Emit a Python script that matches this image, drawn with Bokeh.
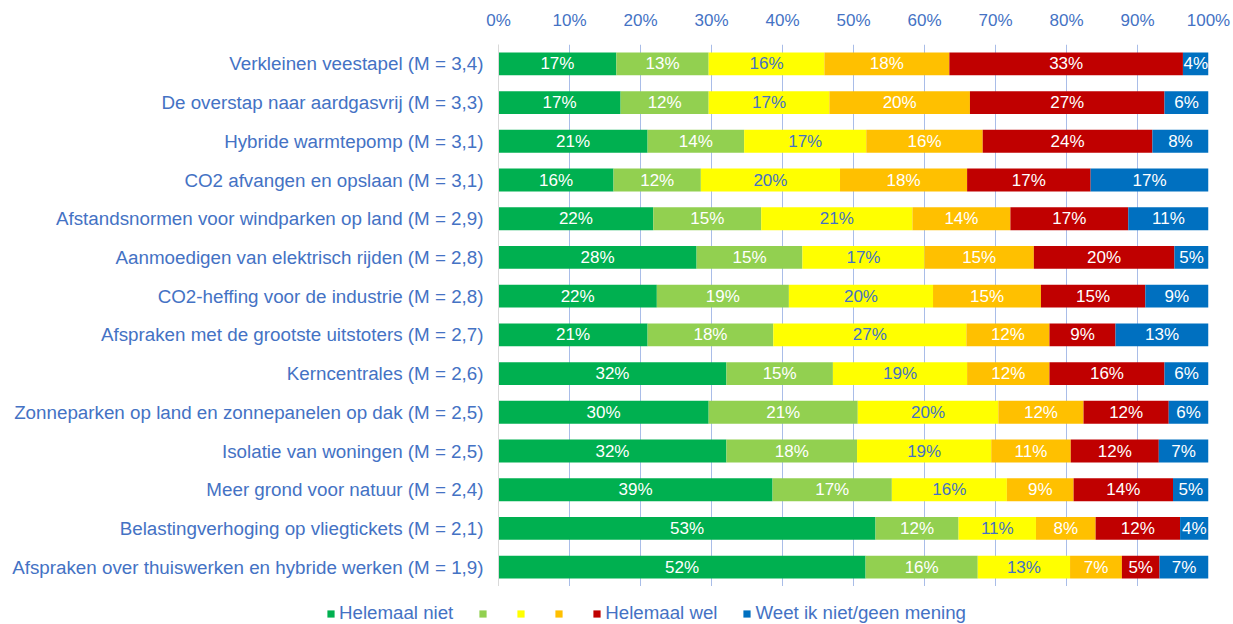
from bokeh.plotting import figure
from bokeh.layouts import column
from bokeh.models import ColumnDataSource, FactorRange, Legend, LegendItem, FixedTicker, Range1d
from bokeh.embed import file_html
from bokeh.resources import INLINE
from bokeh.core.properties import value

categories = [
    "Verkleinen veestapel (M = 3,4)",
    "De overstap naar aardgasvrij (M = 3,3)",
    "Hybride warmtepomp (M = 3,1)",
    "CO2 afvangen en opslaan (M = 3,1)",
    "Afstandsnormen voor windparken op land (M = 2,9)",
    "Aanmoedigen van elektrisch rijden (M = 2,8)",
    "CO2-heffing voor de industrie (M = 2,8)",
    "Afspraken met de grootste uitstoters (M = 2,7)",
    "Kerncentrales (M = 2,6)",
    "Zonneparken op land en zonnepanelen op dak (M = 2,5)",
    "Isolatie van woningen (M = 2,5)",
    "Meer grond voor natuur (M = 2,4)",
    "Belastingverhoging op vliegtickets (M = 2,1)",
    "Afspraken over thuiswerken en hybride werken (M = 1,9)",
]

helemaal_niet = [16.6, 17.2, 21.0, 16.2, 21.8, 27.9, 22.3, 21.0, 32.1, 29.6, 32.1, 38.6, 53.1, 51.7]
niveau_2 = [13.0, 12.4, 13.6, 12.3, 15.2, 14.9, 18.6, 17.7, 15.0, 21.0, 18.4, 16.8, 11.7, 15.8]
niveau_3 = [16.3, 17.0, 17.2, 19.6, 21.3, 17.2, 20.3, 27.2, 18.9, 19.8, 18.9, 16.2, 10.9, 13.0]
niveau_4 = [17.6, 19.8, 16.4, 17.9, 13.8, 15.4, 15.2, 11.7, 11.6, 12.0, 11.2, 9.4, 8.4, 7.3]
helemaal_wel = [32.9, 27.4, 23.9, 17.4, 16.6, 19.8, 14.7, 9.3, 16.2, 12.0, 12.4, 14.0, 11.9, 5.3]
weet_niet = [3.6, 6.2, 7.9, 16.6, 11.3, 4.8, 8.9, 13.1, 6.2, 5.6, 7.0, 5.0, 4.0, 6.9]

legend_labels = ["Helemaal niet", "", "", "", "Helemaal wel", "Weet ik niet/geen mening"]
tick_values = [0, 10, 20, 30, 40, 50, 60, 70, 80, 90, 100]
tick_labels = ["0%", "10%", "20%", "30%", "40%", "50%", "60%", "70%", "80%", "90%", "100%"]

colors = ["#00B050", "#92D050", "#FFFF00", "#FFC000", "#C00000", "#0070C0"]
label_colors = ["white", "white", "#4472C4", "white", "white", "white"]
BLUE = "#4472C4"
FONT = "Liberation Sans"

series = [helemaal_niet, niveau_2, niveau_3, niveau_4, helemaal_wel, weet_niet]
keys = ["s0", "s1", "s2", "s3", "s4", "s5"]

data = {"cat": categories}
for k, vals in zip(keys, series):
    data[k] = vals
src = ColumnDataSource(data)

# label positions (segment centres)
lx, ly, lt, lc = [], [], [], []
for i, cat in enumerate(categories):
    left = 0.0
    for s, vals in enumerate(series):
        v = vals[i]
        lx.append(left + v / 2.0)
        ly.append(cat)
        lt.append(f"{int(v + 0.5)}%")
        lc.append(label_colors[s])
        left += v
lsrc = ColumnDataSource(dict(x=lx, y=ly, t=lt, c=lc))

p = figure(
    y_range=FactorRange(factors=categories[::-1], range_padding=0),
    x_range=(0, 100),
    frame_width=710, frame_height=542,
    min_border_left=498, min_border_right=25,
    min_border_top=44, min_border_bottom=0,
    x_axis_location="above",
    output_backend="svg", toolbar_location=None,
)
p.outline_line_color = None

rs = p.hbar_stack(keys, y="cat", height=0.59, color=colors, line_color=None, source=src)

p.text(x="x", y="y", text="t", text_color="c", source=lsrc,
       text_align="center", text_baseline="middle",
       text_font=value(FONT), text_font_size="17px")

p.xaxis.ticker = FixedTicker(ticks=tick_values)
p.xaxis.major_label_overrides = {v: l for v, l in zip(tick_values, tick_labels)}
p.xaxis.axis_line_color = None
p.xaxis.major_tick_line_color = None
p.xaxis.minor_tick_line_color = None
p.xaxis.major_label_text_color = BLUE
p.xaxis.major_label_text_font = FONT
p.xaxis.major_label_text_font_size = "17px"
p.xaxis.major_label_standoff = 9

p.yaxis.axis_line_color = "#D9D9D9"
p.yaxis.major_tick_line_color = None
p.yaxis.minor_tick_line_color = None
p.yaxis.major_label_text_color = BLUE
p.yaxis.major_label_text_font = FONT
p.yaxis.major_label_text_font_size = "18.8px"
p.yaxis.major_label_standoff = 9

p.xgrid.grid_line_color = "#A9BDE8"
p.ygrid.grid_line_color = None

# legend strip below the chart (its bars have zero height and lie outside
# the visible x range; only the legend entries show)
p2 = figure(width=1233, height=38, min_border=0,
            x_range=Range1d(200, 300), y_range=FactorRange(factors=categories[::-1]),
            x_axis_type=None, y_axis_type=None,
            output_backend="svg", toolbar_location=None)
p2.outline_line_color = None
p2.grid.visible = False
for fig in (p, p2):
    if "frame_align" in fig.properties():
        fig.frame_align = False
rs2 = p2.hbar_stack(keys, y="cat", height=0, color=colors, line_color=None,
                    fill_alpha=1, source=src)

items = [LegendItem(label=lbl, renderers=[r]) for lbl, r in zip(legend_labels, rs2)]
legend = Legend(items=items, orientation="horizontal", location=(326, 0),
                glyph_width=9, glyph_height=9, label_standoff=4, spacing=25,
                label_width=0,
                padding=0, margin=0, border_line_color=None, background_fill_alpha=0,
                label_text_font=FONT, label_text_font_size="18.7px",
                label_text_color=BLUE, label_height=18)
p2.add_layout(legend, "center")

open("out.html", "w").write(file_html(column(p, p2, spacing=0), INLINE))
